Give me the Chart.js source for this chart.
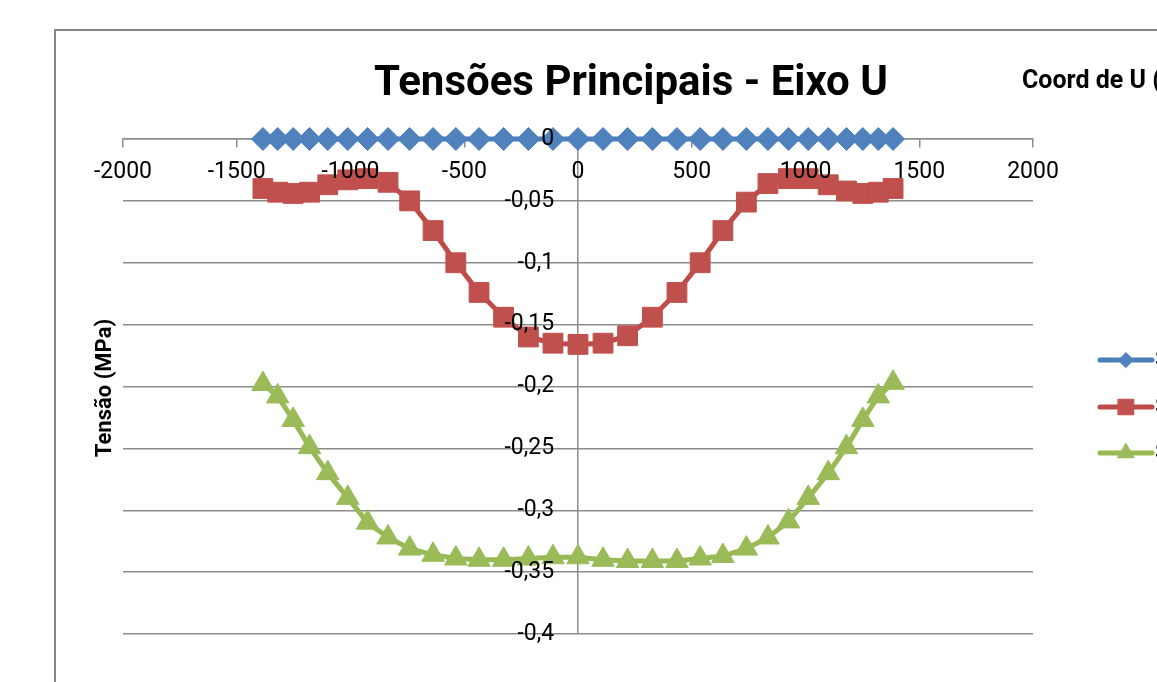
<!DOCTYPE html>
<html lang="pt">
<head>
<meta charset="utf-8">
<title>Tensões Principais - Eixo U</title>
<script src="https://cdn.jsdelivr.net/npm/chart.js@4.4.1/dist/chart.umd.min.js"></script>
<style>
  html, body { margin: 0; padding: 0; width: 1157px; height: 682px; overflow: hidden; background: #fff; }
  #frame { position: absolute; left: 54px; top: 29px; width: 1300px; height: 700px;
           border: 2px solid #878787; background: #fff; }
  #chart { display: block; }
</style>
</head>
<body>
<div id="frame"><canvas id="chart" width="1300" height="700"></canvas></div>
<script>
// Coordenada ao longo do eixo U (mm)
const coordU = [-1385, -1320, -1252, -1180, -1100, -1012, -925, -835, -740, -637, -537, -435, -327, -218, -110,
                0, 110, 218, 327, 435, 537, 637, 740, 835, 925, 1012, 1100, 1180, 1252, 1320, 1385];

// Tensões principais (MPa)
const s1 = [0, 0, 0, 0, 0, 0, 0, 0, 0, 0, 0, 0, 0, 0, 0,
            0, 0, 0, 0, 0, 0, 0, 0, 0, 0, 0, 0, 0, 0, 0, 0];
const s2 = [-0.040, -0.043, -0.044, -0.043, -0.037, -0.033, -0.032, -0.035, -0.050, -0.074, -0.100, -0.124, -0.144, -0.160, -0.165,
            -0.166, -0.165, -0.159, -0.144, -0.124, -0.100, -0.074, -0.051, -0.036, -0.032, -0.032, -0.037, -0.042, -0.044, -0.043, -0.040];
const s3 = [-0.198, -0.208, -0.227, -0.249, -0.270, -0.290, -0.310, -0.322, -0.331, -0.336, -0.339, -0.340, -0.340, -0.339, -0.338,
            -0.338, -0.340, -0.341, -0.341, -0.341, -0.339, -0.337, -0.331, -0.322, -0.309, -0.290, -0.270, -0.249, -0.227, -0.208, -0.197];

const seriesNames = ['S1', 'S2', 'S3'];

const xTickValues = [-2000, -1500, -1000, -500, 0, 500, 1000, 1500, 2000];
const xTickLabels = ['-2000', '-1500', '-1000', '-500', '0', '500', '1000', '1500', '2000'];
const yTickValues = [0, -0.05, -0.1, -0.15, -0.2, -0.25, -0.3, -0.35, -0.4];
const yTickLabels = ['0', '-0,05', '-0,1', '-0,15', '-0,2', '-0,25', '-0,3', '-0,35', '-0,4'];

const chartTitle = 'Tensões Principais - Eixo U';
const xTitle = 'Coord de U (mm)';
const yTitle = 'Tensão (MPa)';

const FONT = 'Roboto, "Liberation Sans", sans-serif';
const GRID = '#8c8c8c';

const styles = [
  { line: '#4A7EBB', fill: '#4F81BD', shape: 'rectRot',  r: 11.5, legendR: 7.5 },
  { line: '#BE4B48', fill: '#C0504D', shape: 'rect',     r: 14,   legendR: 11 },
  { line: '#98B954', fill: '#9BBB59', shape: 'triangle', r: 13,   legendR: 9.5 }
];

function makeDataset(name, values, st) {
  return {
    label: name,
    data: coordU.map((x, i) => ({ x: x, y: values[i] })),
    showLine: true,
    tension: 0,
    borderColor: st.line,
    backgroundColor: st.fill,
    borderWidth: 5,
    pointStyle: st.shape,
    pointRadius: st.r,
    pointHoverRadius: st.r,
    pointBackgroundColor: st.fill,
    pointBorderColor: st.fill,
    pointBorderWidth: 1,
    clip: false
  };
}

// Título, títulos dos eixos e legenda
const annotations = {
  id: 'annotations',
  afterDraw(chart) {
    const ctx = chart.ctx;
    ctx.save();
    ctx.fillStyle = '#000';

    ctx.font = 'bold 42px ' + FONT;
    ctx.textAlign = 'center';
    ctx.textBaseline = 'alphabetic';
    ctx.fillText(chartTitle, 575, 64);

    ctx.font = 'bold 25px ' + FONT;
    ctx.textAlign = 'left';
    ctx.fillText(xTitle, 966, 57);

    ctx.save();
    ctx.translate(49, 357);
    ctx.rotate(-Math.PI / 2);
    ctx.textAlign = 'center';
    ctx.textBaseline = 'middle';
    ctx.font = 'bold 22px ' + FONT;
    ctx.fillText(yTitle, 0, 0);
    ctx.restore();

    const rows = [329, 376, 422];
    chart.data.datasets.forEach((ds, i) => {
      const st = styles[i];
      const y = rows[i];
      ctx.strokeStyle = st.line;
      ctx.lineWidth = 5;
      ctx.lineCap = 'round';
      ctx.beginPath();
      ctx.moveTo(1044, y);
      ctx.lineTo(1096, y);
      ctx.stroke();
      ctx.fillStyle = st.fill;
      ctx.strokeStyle = st.fill;
      ctx.lineWidth = 1;
      Chart.helpers.drawPoint(ctx, { pointStyle: st.shape, radius: st.legendR, rotation: 0, borderWidth: 1 }, 1070, y);
      ctx.fillStyle = '#000';
      ctx.font = '22px ' + FONT;
      ctx.textAlign = 'left';
      ctx.textBaseline = 'middle';
      ctx.fillText(ds.label, 1099, y);
    });
    ctx.restore();
  }
};

function build() {
  new Chart(document.getElementById('chart'), {
    type: 'scatter',
    data: {
      datasets: [
        makeDataset(seriesNames[0], s1, styles[0]),
        makeDataset(seriesNames[1], s2, styles[1]),
        makeDataset(seriesNames[2], s3, styles[2])
      ]
    },
    options: {
      responsive: false,
      animation: false,
      events: [],
      layout: { padding: { left: 67, top: 108, right: 323, bottom: 97 } },
      plugins: {
        legend: { display: false },
        title: { display: false },
        tooltip: { enabled: false }
      },
      scales: {
        x: {
          type: 'linear',
          position: { y: 0 },
          min: -2000,
          max: 2000,
          afterBuildTicks: s => { s.ticks = xTickValues.map(v => ({ value: v })); },
          afterFit: s => { s.height = 0; },
          ticks: {
            callback: v => xTickLabels[xTickValues.indexOf(v)],
            autoSkip: false,
            maxRotation: 0,
            padding: 11,
            z: 1,
            color: '#000',
            font: { family: FONT, size: 23 }
          },
          grid: {
            color: c => (c.tick && c.tick.value === 0) ? GRID : 'rgba(0,0,0,0)',
            tickColor: GRID,
            tickLength: 8,
            lineWidth: 1.5
          },
          border: { color: GRID, width: 1.5 }
        },
        y: {
          type: 'linear',
          position: { x: -105 },
          min: -0.4,
          max: 0,
          afterBuildTicks: s => { s.ticks = yTickValues.map(v => ({ value: v })); },
          afterFit: s => { s.width = 0; },
          ticks: {
            callback: v => yTickLabels[yTickValues.indexOf(v)],
            autoSkip: false,
            z: 1,
            color: '#000',
            font: { family: FONT, size: 23 }
          },
          grid: { color: GRID, lineWidth: 1.5, drawTicks: false },
          border: { display: false }
        }
      }
    },
    plugins: [annotations]
  });
}

Promise.all([
  document.fonts.load('23px Roboto'),
  document.fonts.load('bold 42px Roboto')
]).then(build, build);
</script>
</body>
</html>
